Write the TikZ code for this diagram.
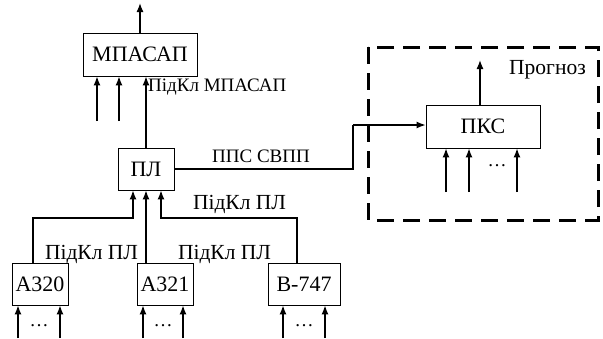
\documentclass[tikz,border=0pt]{standalone}
\usepackage{fontspec}
\setmainfont{Liberation Serif}
\usetikzlibrary{arrows.meta}

\begin{document}
\begin{tikzpicture}[
    x=1pt, y=-1pt,
    every node/.style={font=\fontsize{19}{19}\selectfont, inner sep=0pt},
    box/.style={draw, line width=0.9pt, minimum height=43pt, font=\fontsize{22}{22}\selectfont},
    big/.style={font=\fontsize{21.5}{21.5}\selectfont},
    arr/.style={line width=1.3pt, -{Latex[length=9pt,width=7pt]}},
    wire/.style={line width=1.3pt}
]
\useasboundingbox (0,0) rectangle (603,338);

% blocks
\node[box, minimum width=114pt] (mpasap) at (140,54.5) {МПАСАП};
\node[box, minimum width=56pt, minimum height=42pt] (pl) at (146,169) {ПЛ};
\node[box, minimum width=56pt, minimum height=42pt] (a320) at (40,284) {А320};
\node[box, minimum width=56pt, minimum height=42pt] (a321) at (165,284) {А321};
\node[box, minimum width=72pt, minimum height=42pt] (b747) at (304,284) {В-747};
\node[box, minimum width=114pt] (pks) at (483,126.5) {ПКС};

\draw[line width=3pt, dash pattern=on 17pt off 9pt] (368,47) rectangle (598,220);
\node[big] (prognoz) at (547.5,70) {Прогноз};

% outputs
\coordinate (outm) at (140,3);
\coordinate (outp) at (480,60);
\draw[arr] (mpasap.north) -- (outm);
\draw[arr] (outp |- pks.north) -- (outp);

% inputs from below
\foreach \x/\n in {97/m1, 119/m2} {
    \coordinate (\n) at (\x,121);
    \draw[arr] (\n) -- (\n |- mpasap.south);
}
\foreach \x/\n in {446/p1, 469/p2, 517/p3} {
    \coordinate (\n) at (\x,192);
    \draw[arr] (\n) -- (\n |- pks.south);
}
\node (pdots) at (497,166) {\dots};
\foreach \x/\n/\b in {18/a1/a320, 60/a2/a320, 143/b1/a321, 183/b2/a321, 283/c1/b747, 325/c2/b747} {
    \coordinate (\n) at (\x,338);
    \draw[arr] (\n) -- (\n |- \b.south);
}
\node (adots) at (39,326) {\dots};
\node (bdots) at (163,326) {\dots};
\node (cdots) at (304,326) {\dots};

% links
\coordinate (pltop) at (146,0);
\draw[arr] (pltop |- pl.north) -- (pltop |- mpasap.south);
\node[anchor=west] (lm) at (148,87) {ПідКл МПАСАП};

\coordinate (la) at (33,218);
\coordinate (lb) at (146,0);
\coordinate (lc) at (297,218);
\coordinate (ja) at (133,190);
\coordinate (jc) at (161,190);
\draw[arr] (la |- a320.north) -- (la) -| (ja |- pl.south);
\draw[arr] (lb |- a321.north) -- (lb |- pl.south);
\draw[arr] (lc |- b747.north) -- (lc) -| (jc |- pl.south);
\node[big] (l1) at (91.5,254) {ПідКл ПЛ};
\node[big] (l2) at (224.5,254) {ПідКл ПЛ};
\node[big] (l3) at (239.5,204) {ПідКл ПЛ};

\coordinate (bend) at (353,125);
\draw[wire] (pl.east) -- (bend |- pl.east) -- (bend);
\draw[arr] (bend) -- (pks.west |- bend);
\node (pps) at (261,156) {ППС СВПП};
\end{tikzpicture}
\end{document}
